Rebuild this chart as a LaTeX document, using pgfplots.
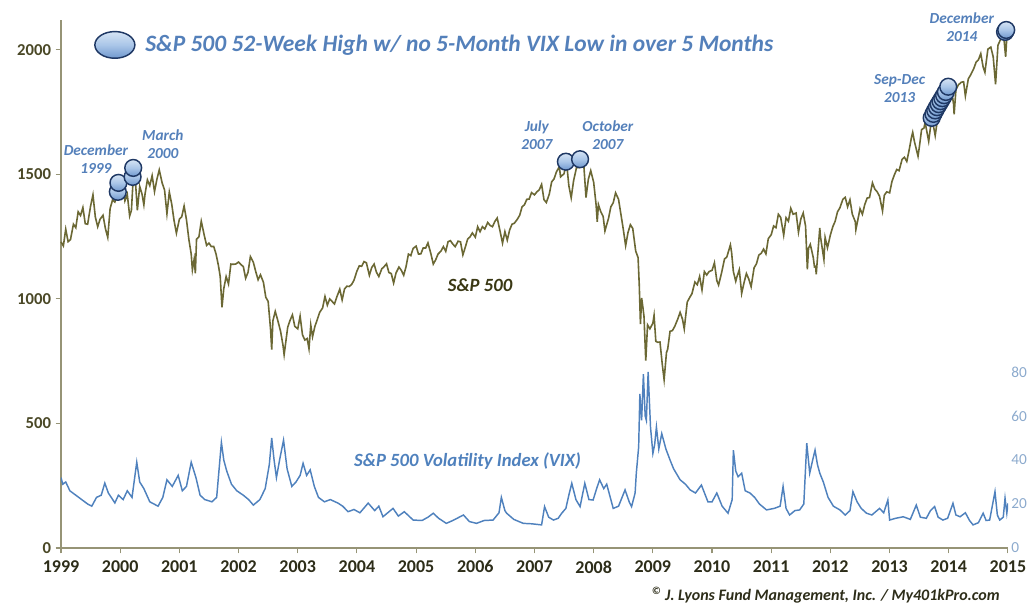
\documentclass[border=0pt]{standalone}
\usepackage{pgfplots}
\pgfplotsset{compat=1.18}
\usepackage{fontspec}
\setmainfont{Carlito}
\definecolor{spx}{RGB}{107,104,52}
\definecolor{vix}{RGB}{79,129,189}
\definecolor{annot}{RGB}{84,128,186}
\definecolor{ylab}{RGB}{74,72,38}
\definecolor{xlab}{RGB}{45,45,25}
\definecolor{rlab}{RGB}{140,170,205}
\definecolor{axcol}{RGB}{150,148,118}
\definecolor{spxlab}{RGB}{58,56,20}
\definecolor{btntop}{RGB}{214,228,244}
\definecolor{btnmid}{RGB}{170,198,232}
\definecolor{btnbot}{RGB}{112,152,206}
\definecolor{btnline}{RGB}{31,56,100}
\pgfdeclareverticalshading{btnshade}{100bp}{color(0bp)=(btnbot); color(25bp)=(btnbot); color(50bp)=(btnmid); color(75bp)=(btntop); color(100bp)=(btntop)}
\pgfdeclareplotmark{btn}{%
  \pgfpathcircle{\pgfpointorigin}{\pgfplotmarksize}%
  \pgfshadepath{btnshade}{0}%
  \pgfusepathqstroke}
\pgfplotsset{/pgf/number format/1000 sep={}}

\pgfplotstableread{
x y
1999.00 1229
1999.04 1213
1999.08 1280
1999.12 1230
1999.16 1238
1999.21 1300
1999.25 1286
1999.29 1350
1999.33 1335
1999.37 1367
1999.41 1302
1999.45 1300
1999.50 1373
1999.54 1418
1999.58 1329
1999.62 1290
1999.66 1320
1999.71 1336
1999.75 1283
1999.79 1247
1999.83 1363
1999.87 1397
1999.91 1389
1999.95 1418
2000.00 1469
2000.04 1465
2000.08 1394
2000.12 1420
2000.16 1333
2000.19 1356
2000.23 1527
2000.25 1499
2000.29 1356
2000.33 1452
2000.37 1420
2000.40 1378
2000.42 1421
2000.46 1478
2000.50 1455
2000.54 1495
2000.58 1431
2000.62 1480
2000.66 1518
2000.71 1465
2000.75 1437
2000.79 1342
2000.83 1429
2000.87 1382
2000.91 1315
2000.95 1264
2001.00 1320
2001.04 1330
2001.08 1373
2001.12 1318
2001.16 1240
2001.20 1180
2001.22 1117
2001.25 1160
2001.27 1103
2001.29 1240
2001.33 1249
2001.37 1312
2001.42 1256
2001.46 1215
2001.50 1224
2001.54 1210
2001.58 1211
2001.62 1180
2001.66 1134
2001.69 1090
2001.72 966
2001.75 1041
2001.79 1090
2001.83 1060
2001.87 1140
2001.91 1139
2001.95 1140
2002.00 1148
2002.04 1138
2002.08 1130
2002.12 1083
2002.16 1107
2002.20 1170
2002.25 1147
2002.29 1110
2002.33 1077
2002.37 1097
2002.42 1067
2002.46 1007
2002.50 990
2002.54 880
2002.56 797
2002.58 912
2002.62 950
2002.66 916
2002.71 870
2002.75 815
2002.77 776
2002.83 886
2002.87 914
2002.91 936
2002.95 890
2003.00 880
2003.04 931
2003.08 856
2003.12 835
2003.16 841
2003.19 800
2003.22 895
2003.25 848
2003.29 890
2003.33 917
2003.37 946
2003.42 964
2003.46 1010
2003.50 975
2003.54 1000
2003.58 990
2003.62 980
2003.66 1008
2003.71 1039
2003.75 996
2003.79 1040
2003.83 1051
2003.87 1050
2003.91 1058
2003.95 1075
2004.00 1112
2004.04 1133
2004.08 1131
2004.12 1150
2004.16 1145
2004.21 1095
2004.25 1126
2004.29 1140
2004.33 1107
2004.37 1090
2004.42 1121
2004.46 1130
2004.50 1141
2004.54 1106
2004.58 1102
2004.62 1064
2004.66 1104
2004.71 1128
2004.75 1115
2004.79 1095
2004.83 1130
2004.87 1180
2004.91 1174
2004.95 1203
2005.00 1212
2005.04 1180
2005.08 1181
2005.12 1205
2005.16 1204
2005.20 1225
2005.25 1181
2005.29 1140
2005.33 1157
2005.37 1180
2005.42 1192
2005.46 1210
2005.50 1191
2005.54 1230
2005.58 1234
2005.62 1220
2005.66 1210
2005.71 1232
2005.75 1229
2005.79 1177
2005.83 1207
2005.87 1240
2005.91 1249
2005.95 1265
2006.00 1248
2006.04 1290
2006.08 1270
2006.12 1290
2006.16 1281
2006.21 1307
2006.25 1295
2006.29 1290
2006.33 1311
2006.37 1325
2006.42 1270
2006.46 1224
2006.50 1270
2006.54 1236
2006.58 1277
2006.62 1300
2006.66 1304
2006.71 1320
2006.75 1336
2006.79 1370
2006.83 1378
2006.87 1400
2006.91 1401
2006.95 1427
2007.00 1418
2007.04 1430
2007.08 1438
2007.12 1460
2007.16 1399
2007.20 1387
2007.25 1421
2007.29 1470
2007.33 1482
2007.37 1510
2007.42 1531
2007.44 1490
2007.50 1503
2007.54 1553
2007.58 1455
2007.62 1406
2007.66 1474
2007.71 1528
2007.75 1527
2007.77 1565
2007.83 1549
2007.87 1407
2007.91 1481
2007.95 1515
2008.00 1468
2008.04 1380
2008.06 1310
2008.08 1379
2008.12 1350
2008.16 1331
2008.19 1273
2008.25 1323
2008.29 1370
2008.33 1386
2008.37 1426
2008.42 1400
2008.46 1340
2008.50 1280
2008.54 1214
2008.58 1267
2008.62 1298
2008.66 1283
2008.71 1192
2008.75 1166
2008.77 1056
2008.79 899
2008.81 1004
2008.83 969
2008.85 930
2008.88 752
2008.91 896
2008.95 880
2009.00 903
2009.02 934
2009.05 830
2009.08 826
2009.12 827
2009.16 735
2009.19 676
2009.23 785
2009.25 798
2009.29 870
2009.33 873
2009.37 890
2009.42 919
2009.46 946
2009.50 919
2009.53 880
2009.58 987
2009.62 1005
2009.66 1021
2009.71 1068
2009.75 1057
2009.79 1090
2009.83 1036
2009.87 1110
2009.91 1096
2009.95 1110
2010.00 1115
2010.04 1145
2010.08 1074
2010.11 1056
2010.16 1104
2010.21 1160
2010.25 1169
2010.31 1217
2010.33 1187
2010.36 1110
2010.40 1071
2010.42 1089
2010.46 1117
2010.50 1022
2010.54 1065
2010.58 1102
2010.62 1080
2010.66 1049
2010.71 1125
2010.75 1141
2010.79 1176
2010.83 1183
2010.87 1200
2010.91 1181
2010.95 1242
2011.00 1258
2011.04 1293
2011.08 1286
2011.12 1340
2011.16 1327
2011.21 1256
2011.25 1326
2011.29 1312
2011.33 1364
2011.37 1340
2011.42 1345
2011.46 1268
2011.50 1321
2011.54 1345
2011.58 1292
2011.61 1119
2011.63 1204
2011.66 1219
2011.71 1166
2011.73 1129
2011.75 1131
2011.76 1099
2011.82 1285
2011.83 1253
2011.89 1158
2011.91 1247
2011.95 1205
2012.00 1258
2012.04 1290
2012.08 1312
2012.12 1350
2012.16 1366
2012.21 1400
2012.25 1408
2012.29 1370
2012.33 1398
2012.37 1340
2012.42 1310
2012.43 1278
2012.50 1362
2012.54 1340
2012.58 1379
2012.62 1405
2012.66 1407
2012.71 1466
2012.75 1441
2012.79 1430
2012.83 1412
2012.88 1353
2012.91 1416
2012.95 1430
2013.00 1426
2013.04 1472
2013.08 1498
2013.12 1520
2013.16 1515
2013.21 1560
2013.25 1569
2013.29 1552
2013.33 1598
2013.37 1650
2013.39 1669
2013.42 1631
2013.48 1573
2013.50 1606
2013.54 1680
2013.58 1686
2013.60 1709
2013.66 1633
2013.71 1725
2013.75 1682
2013.77 1656
2013.83 1757
2013.87 1790
2013.91 1806
2013.95 1775
2014.00 1848
2014.04 1848
2014.08 1783
2014.09 1741
2014.12 1840
2014.16 1859
2014.21 1870
2014.25 1872
2014.28 1815
2014.33 1884
2014.37 1900
2014.42 1924
2014.46 1950
2014.50 1960
2014.54 1985
2014.58 1931
2014.61 1910
2014.66 2003
2014.71 2011
2014.75 1972
2014.79 1862
2014.83 2018
2014.87 2040
2014.92 2075
2014.96 1972
2014.99 2090
2015.00 2059
}\spxdata

\pgfplotstableread{
x y
1999.00 32
1999.03 29
1999.08 30
1999.15 26
1999.25 24
1999.35 22
1999.45 20
1999.52 19
1999.60 23
1999.68 24
1999.74 29.5
1999.80 25
1999.91 20.5
1999.97 24
2000.05 22
2000.12 26
2000.20 23
2000.28 39
2000.33 30
2000.40 27
2000.50 21
2000.64 19
2000.72 23
2000.79 31
2000.88 28
2000.98 33
2001.05 26
2001.12 28
2001.20 39
2001.28 32
2001.35 24
2001.43 22
2001.55 21
2001.63 23
2001.71 48
2001.75 40
2001.80 35
2001.88 29
2001.97 26
2002.08 24
2002.17 22
2002.25 19.5
2002.36 22
2002.45 27
2002.52 38
2002.56 50
2002.60 40
2002.64 32
2002.70 41
2002.76 49
2002.82 36
2002.90 28
2002.97 30
2003.04 33
2003.09 38.5
2003.15 33
2003.21 35.5
2003.28 28
2003.35 23
2003.45 21
2003.55 22
2003.68 20.4
2003.76 19
2003.85 16.5
2003.95 17.5
2004.05 16
2004.19 20.4
2004.30 17
2004.37 19
2004.44 14.2
2004.52 16
2004.61 18
2004.70 14.5
2004.80 16.5
2004.95 12.7
2005.10 12.5
2005.20 14
2005.29 15.8
2005.38 13.5
2005.51 11.2
2005.62 12.5
2005.80 15
2005.90 12
2006.02 11.2
2006.15 12.5
2006.30 12.7
2006.40 16
2006.44 23
2006.50 17
2006.53 15.8
2006.65 13
2006.81 11.2
2006.95 11
2007.12 10.5
2007.17 18.8
2007.24 14
2007.32 12.7
2007.40 13.5
2007.46 15.8
2007.53 18
2007.58 24
2007.63 29.4
2007.70 22
2007.77 18.8
2007.85 29.4
2007.92 22
2007.99 21.8
2008.05 27
2008.10 31
2008.17 27
2008.22 29
2008.33 18
2008.42 19
2008.53 26.4
2008.60 21
2008.64 18.8
2008.70 25
2008.72 34
2008.76 46
2008.78 70
2008.81 58
2008.84 79
2008.87 60
2008.89 58
2008.92 80
2008.96 55
2009.00 43
2009.03 47
2009.06 55
2009.10 45
2009.15 52
2009.22 45
2009.29 40
2009.35 36
2009.46 31
2009.55 29
2009.63 26.4
2009.72 25
2009.82 28.6
2009.93 21
2010.00 21
2010.08 25
2010.17 19
2010.27 15.8
2010.34 22
2010.36 44.5
2010.40 35
2010.44 32.4
2010.50 34
2010.56 26
2010.64 25
2010.72 23
2010.80 20
2010.92 17.3
2011.05 18
2011.15 19
2011.20 28
2011.25 18
2011.31 15
2011.40 17
2011.48 17.3
2011.55 20
2011.60 47.6
2011.65 34
2011.70 40
2011.74 44.5
2011.78 38
2011.82 34
2011.88 30
2011.96 23
2012.05 19
2012.16 17.3
2012.25 15
2012.33 17
2012.38 25.6
2012.45 21
2012.52 18
2012.61 15.8
2012.70 15
2012.83 18
2012.90 16
2012.97 21.8
2013.00 12.7
2013.10 13.5
2013.23 14.2
2013.35 13
2013.45 19.5
2013.52 14
2013.62 13.5
2013.69 17
2013.76 18.8
2013.82 14
2013.90 12.7
2013.98 13.5
2014.07 20.3
2014.12 15
2014.19 14.2
2014.28 16
2014.35 12.5
2014.41 10.5
2014.50 11.5
2014.58 15.8
2014.63 12.5
2014.69 12.7
2014.78 25.6
2014.82 15
2014.86 12.7
2014.92 14
2014.95 22.6
2014.98 15.8
2015.00 20.3
}\vixdata

\begin{document}
\begin{tikzpicture}
\begin{axis}[
  name=main,
  scale only axis,
  width=710.25pt, height=396pt,
  xmin=1999, xmax=2015, ymin=0, ymax=2120,
  axis x line*=bottom, axis y line*=left,
  axis line style={draw=axcol, line width=0.8pt, -},
  xtick={1999,...,2015},
  ytick={0,500,1000,1500,2000},
  tick align=outside,
  major tick length=4pt,
  tick style={draw=axcol, line width=0.8pt},
  /pgf/number format/assume math mode=true,
  xticklabel style={font=\bfseries\fontsize{13.5}{15}\selectfont, text=xlab, yshift=-2pt},
  yticklabel style={font=\bfseries\fontsize{12.5}{14}\selectfont, text=ylab},
  clip=false,
]
\addplot[spx, line width=1.2pt] table[x=x,y=y] {\spxdata};
\addplot[only marks, mark=btn, mark size=6.3pt, mark options={draw=btnline, line width=1.1pt}] coordinates {
 (1999.96,1430) (1999.97,1466)
 (2000.21,1490) (2000.22,1526)
 (2007.53,1551) (2007.77,1561)
 (2013.71,1727) (2013.74,1743) (2013.77,1757) (2013.80,1770) (2013.83,1782) (2013.86,1794) (2013.89,1806) (2013.92,1818) (2013.95,1831) (2013.99,1852)
 (2014.95,2072) (2014.97,2080)
};
% legend symbol and title
\shade[top color=btntop, bottom color=btnbot, middle color=btnmid, draw=btnline, line width=1.1pt] (axis cs:1999.91,2020) ellipse (15pt and 10pt);
\node[anchor=west, text=annot, font=\bfseries\itshape\fontsize{17.6}{19}\selectfont, inner sep=0pt] at (axis cs:2000.42,2020) {S\&P 500 52-Week High w/ no 5-Month VIX Low in over 5 Months};
% annotations
\begin{scope}[every node/.style={text=annot, font=\bfseries\itshape\fontsize{11.5}{13.5}\selectfont, align=center, inner sep=0pt}]
\node at (axis cs:1999.59,1562) {December\\1999};
\node at (axis cs:2000.72,1622) {March\\2000};
\node at (axis cs:2007.04,1657) {July\\2007};
\node at (axis cs:2008.24,1657) {October\\2007};
\node at (axis cs:2013.17,1843) {Sep-Dec\\2013};
\node at (axis cs:2014.22,2092) {December\\2014};
\end{scope}
\node[text=spxlab, font=\bfseries\itshape\fontsize{14}{16}\selectfont, inner sep=0pt] at (axis cs:2006.08,1056) {S\&P 500};
\node[text=vix, font=\bfseries\itshape\fontsize{14}{16}\selectfont, inner sep=0pt] at (axis cs:2005.87,349) {S\&P 500 Volatility Index (VIX)};
\node[anchor=west, text=xlab, font=\bfseries\itshape\fontsize{12}{14}\selectfont, inner sep=0pt] at (axis cs:2008.98,-189) {\textsuperscript{\textcopyright} J. Lyons Fund Management, Inc. / My401kPro.com};
\end{axis}
\begin{axis}[
  scale only axis,
  width=710.25pt, height=396pt,
  xmin=1999, xmax=2015, ymin=0, ymax=240,
  hide x axis,
  axis y line*=right,
  y axis line style={draw=none},
  ytick={0,20,40,60,80},
  ytick style={draw=none},
  yticklabel style={font=\fontsize{11.5}{13}\selectfont, text=rlab, xshift=-1pt},
  /pgf/number format/assume math mode=true,
]
\addplot[vix, line width=1.1pt] table[x=x,y=y] {\vixdata};
\end{axis}
\pgfresetboundingbox
\useasboundingbox (-45.75pt,-48.75pt) rectangle (729pt,411pt);
\end{tikzpicture}
\end{document}
